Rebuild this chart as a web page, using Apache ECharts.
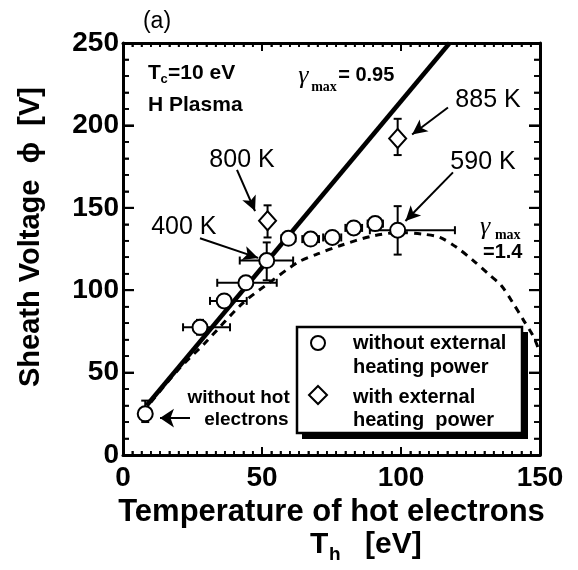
<!DOCTYPE html>
<html>
<head>
<meta charset="utf-8">
<script src="https://cdn.jsdelivr.net/npm/echarts@6/dist/echarts.min.js"></script>
<style>
  html, body { margin: 0; padding: 0; background: #fff; }
  #chart { width: 578px; height: 570px; }
</style>
</head>
<body>
<div id="chart"></div>
<script>
// Sheath voltage versus temperature of hot electrons (Tc = 10 eV, H plasma)

// Measurements without external heating power
const thNoHeat   = [8,  27.7, 36.4, 44.2, 51.7, 59.5, 67.5, 75.3, 83.0, 90.7, 98.8];
const phiNoHeat  = [25, 77.5, 93.5, 104.5, 118, 131.5, 131, 132, 137.8, 140.4, 136.4];
const thLoNoHeat = [8,  21.6, 31.3, 33.9, 42.0, 57.0, 64.5, 72.0, 80.0, 88.0, 88.8];
const thHiNoHeat = [8,  38.5, 44.5, 55.3, 61.2, 62.0, 70.5, 78.5, 86.0, 93.5, 119.4];
const phiLoNoHeat = [20, 73, 90, 101, 106, 128, 128, 129, 134, 137, 121.6];
const phiHiNoHeat = [33, 82, 97, 108, 129, 135, 134, 135, 141, 144, 151];

// Measurements with external heating power
const thHeat    = [52, 98.8];
const phiHeat   = [142.2, 192];
const phiLoHeat = [132, 182];
const phiHiHeat = [151.5, 204];

// Model curves
const thGamma095  = [8.5, 117.5];
const phiGamma095 = [30, 250];
const thGamma14  = [10, 20, 29.5, 43, 53, 63, 70, 78, 90, 100, 108, 114, 120, 126, 132, 136, 140, 144, 147.6, 150];
const phiGamma14 = [32, 52, 68, 92, 105, 117, 122, 127, 133, 135, 134, 132, 126, 118, 109, 103, 93, 82, 72, 62];

// Axis ticks
const xTicks = [0, 50, 100, 150];
const yTicks = [0, 50, 100, 150, 200, 250];
const xMinorPerMajor = 15;
const yMinorPerMajor = 5;

// Labels placed in data coordinates
const tempLabels  = ['800 K', '400 K', '885 K', '590 K'];
const tempLabelTh = [42.8, 21.9, 131.3, 129.5];
const tempLabelPhi = [178.8, 138.2, 215.2, 177.6];
// arrows: [th, phi] of tail and head
const arrowFrom = [[41, 173], [27.7, 131.5], [116.9, 210.9], [118.7, 171.5], [24.1, 22.4]];
const arrowTo   = [[47.5, 148], [48.6, 119.6], [104, 194.5], [101.6, 142], [13.3, 22.4]];

const SANS = '"Liberation Sans", Arial, Helvetica, sans-serif';
const SERIF = '"Liberation Serif", "DejaVu Serif", serif';

const chart = echarts.init(document.getElementById('chart'), null, { renderer: 'canvas' });

const X_MIN = xTicks[0], X_MAX = xTicks[xTicks.length - 1];
const Y_MIN = yTicks[0], Y_MAX = yTicks[yTicks.length - 1];

function xAxisDef(pos, showLabel) {
  return {
    type: 'value', position: pos, min: X_MIN, max: X_MAX, interval: 50,
    axisLine: { show: true, onZero: false, lineStyle: { color: '#000', width: 3 } },
    axisTick: { show: true, inside: true, length: 8, lineStyle: { color: '#000', width: 2 } },
    minorTick: { show: true, splitNumber: xMinorPerMajor, length: 4, lineStyle: { color: '#000', width: 1.6 } },
    splitLine: { show: false },
    axisLabel: { show: showLabel, color: '#000', fontFamily: SANS, fontWeight: 'bold', fontSize: 28, margin: 9 }
  };
}
function yAxisDef(pos, showLabel) {
  return {
    type: 'value', position: pos, min: Y_MIN, max: Y_MAX, interval: 50,
    axisLine: { show: true, onZero: false, lineStyle: { color: '#000', width: 3 } },
    axisTick: { show: true, inside: true, length: 11, lineStyle: { color: '#000', width: 2 } },
    minorTick: { show: true, splitNumber: yMinorPerMajor, length: 6, lineStyle: { color: '#000', width: 1.6 } },
    splitLine: { show: false },
    axisLabel: { show: showLabel, color: '#000', fontFamily: SANS, fontWeight: 'bold', fontSize: 28, margin: 4 }
  };
}

const xA = xAxisDef('bottom', true);
xA.name = 'Temperature of hot electrons';
xA.nameLocation = 'middle';
xA.nameGap = 41;
xA.nameTextStyle = { color: '#000', fontFamily: SANS, fontWeight: 'bold', fontSize: 31 };
const yA = yAxisDef('left', true);
yA.name = 'Sheath Voltage  \u03D5  [V]';
yA.nameLocation = 'middle';
yA.nameGap = 78;
yA.nameTextStyle = { color: '#000', fontFamily: SANS, fontWeight: 'bold', fontSize: 29, padding: [0, 0, 0, 24] };

const noHeatErr = thNoHeat.map((t, i) => [t, phiNoHeat[i], thLoNoHeat[i], thHiNoHeat[i], phiLoNoHeat[i], phiHiNoHeat[i]]);
const heatErr = thHeat.map((t, i) => [t, phiHeat[i], t, t, phiLoHeat[i], phiHiHeat[i]]);

function renderErr(params, api) {
  const x = api.value(0), y = api.value(1);
  const xl = api.value(2), xh = api.value(3), yl = api.value(4), yh = api.value(5);
  const pl = api.coord([xl, y]), ph = api.coord([xh, y]);
  const pb = api.coord([x, yl]), pt = api.coord([x, yh]);
  const cap = 4;
  const st = { stroke: '#000', lineWidth: 2 };
  const kids = [];
  if (xh > xl) {
    kids.push({ type: 'line', shape: { x1: pl[0], y1: pl[1], x2: ph[0], y2: ph[1] }, style: st });
    kids.push({ type: 'line', shape: { x1: pl[0], y1: pl[1] - cap, x2: pl[0], y2: pl[1] + cap }, style: st });
    kids.push({ type: 'line', shape: { x1: ph[0], y1: ph[1] - cap, x2: ph[0], y2: ph[1] + cap }, style: st });
  }
  if (yh > yl) {
    kids.push({ type: 'line', shape: { x1: pb[0], y1: pb[1], x2: pt[0], y2: pt[1] }, style: st });
    kids.push({ type: 'line', shape: { x1: pb[0] - cap, y1: pb[1], x2: pb[0] + cap, y2: pb[1] }, style: st });
    kids.push({ type: 'line', shape: { x1: pt[0] - cap, y1: pt[1], x2: pt[0] + cap, y2: pt[1] }, style: st });
  }
  return { type: 'group', children: kids };
}

const option = {
  animation: false,
  backgroundColor: '#fff',
  grid: { left: 123, right: 38, top: 43, bottom: 115 },
  xAxis: [xA, xAxisDef('top', false)],
  yAxis: [yA, yAxisDef('right', false)],
  series: [
    {
      type: 'line', xAxisIndex: 0, yAxisIndex: 0, showSymbol: false, silent: true, z: 3,
      data: thGamma095.map((t, i) => [t, phiGamma095[i]]),
      lineStyle: { color: '#000', width: 4.5 }
    },
    {
      type: 'line', xAxisIndex: 0, yAxisIndex: 0, showSymbol: false, silent: true, smooth: 0.3, z: 3,
      data: thGamma14.map((t, i) => [t, phiGamma14[i]]),
      lineStyle: { color: '#000', width: 3, type: [7, 6] }
    },
    {
      type: 'custom', xAxisIndex: 0, yAxisIndex: 0, renderItem: renderErr, silent: true, z: 4,
      data: noHeatErr.concat(heatErr)
    },
    {
      type: 'scatter', xAxisIndex: 0, yAxisIndex: 0, z: 5,
      symbol: 'circle', symbolSize: 15,
      itemStyle: { color: '#fff', borderColor: '#000', borderWidth: 2, opacity: 1 },
      data: thNoHeat.map((t, i) => [t, phiNoHeat[i]]),
      markLine: {
        silent: true, animation: false,
        symbol: ['none', 'arrow'], symbolSize: [0, 13],
        label: { show: false },
        lineStyle: { color: '#000', width: 2, type: 'solid' },
        data: arrowFrom.map((f, i) => [
          { coord: f, symbol: 'none' },
          { coord: arrowTo[i], symbol: 'arrow', symbolSize: i === 4 ? [14, 14] : [11, 15] }
        ])
      }
    },
    {
      type: 'scatter', xAxisIndex: 0, yAxisIndex: 0, z: 5,
      symbol: 'diamond', symbolSize: [17, 19],
      itemStyle: { color: '#fff', borderColor: '#000', borderWidth: 2, opacity: 1 },
      data: thHeat.map((t, i) => [t, phiHeat[i]])
    }
  ]
};
chart.setOption(option);

// Positions from the chart's own scales
function px(th, phi) { return chart.convertToPixel({ xAxisIndex: 0, yAxisIndex: 0 }, [th, phi]); }
function txt(x, y, s, size, opts) {
  return {
    type: 'text', x: x, y: y, silent: true, z: 50,
    style: Object.assign({ text: s, fill: '#000', font: 'bold ' + size + 'px ' + SANS, textAlign: 'left', textVerticalAlign: 'middle' }, opts || {})
  };
}
function seg(x1, y1, x2, y2, w) {
  return { type: 'line', silent: true, z: 100, shape: { x1: x1, y1: y1, x2: x2, y2: y2 }, style: { stroke: '#000', lineWidth: w } };
}

const g = [];

// Inward tick marks on all four sides of the frame
function xTick(v, major) {
  const b = px(v, Y_MIN), t = px(v, Y_MAX), len = major ? 8 : 4, w = major ? 2 : 1.6;
  g.push(seg(b[0], b[1], b[0], b[1] - len, w));
  g.push(seg(t[0], t[1], t[0], t[1] + len, w));
}
function yTick(v, major) {
  const l = px(X_MIN, v), r = px(X_MAX, v), len = major ? 11 : 6, w = major ? 2 : 1.6;
  g.push(seg(l[0], l[1], l[0] + len, l[1], w));
  g.push(seg(r[0], r[1], r[0] - len, r[1], w));
}
for (let k = 0; k < xTicks.length; k++) {
  xTick(xTicks[k], true);
  if (k < xTicks.length - 1) {
    const step = (xTicks[k + 1] - xTicks[k]) / xMinorPerMajor;
    for (let m = 1; m < xMinorPerMajor; m++) xTick(xTicks[k] + m * step, false);
  }
}
for (let k = 0; k < yTicks.length; k++) {
  yTick(yTicks[k], true);
  if (k < yTicks.length - 1) {
    const step = (yTicks[k + 1] - yTicks[k]) / yMinorPerMajor;
    for (let m = 1; m < yMinorPerMajor; m++) yTick(yTicks[k] + m * step, false);
  }
}

// panel tag
g.push(txt(157, 22, '(a)', 23, { font: '23px ' + SANS, textAlign: 'center' }));

// plasma conditions
const pTc = px(9, 231.5);
g.push(txt(pTc[0], pTc[1], 'T', 21));
g.push(txt(pTc[0] + 12.5, pTc[1] + 6, 'c', 13));
g.push(txt(pTc[0] + 20, pTc[1], '=10 eV', 21));
const pH = px(9, 212);
g.push(txt(pH[0], pH[1], 'H Plasma', 21));

// gamma_max = 0.95
const pG1 = px(63, 230);
g.push(txt(pG1[0], pG1[1], '\u03B3', 26, { font: 'italic 26px ' + SERIF }));
g.push(txt(pG1[0] + 13, pG1[1] + 11, 'max', 14, { font: 'bold 14px ' + SERIF }));
g.push(txt(pG1[0] + 40, pG1[1], '= 0.95', 20));

// gamma_max = 1.4
const pG2 = px(128.4, 138.2);
g.push(txt(pG2[0], pG2[1], '\u03B3', 26, { font: 'italic 26px ' + SERIF }));
g.push(txt(pG2[0] + 15, pG2[1] + 8, 'max', 14, { font: 'bold 14px ' + SERIF }));
const pG3 = px(129.5, 123);
g.push(txt(pG3[0], pG3[1], '=1.4', 20));

// temperature callouts
tempLabels.forEach((s, i) => {
  const p = px(tempLabelTh[i], tempLabelPhi[i]);
  g.push(txt(p[0], p[1], s, 25, { font: '25px ' + SANS, textAlign: 'center' }));
});

// reference point without hot electrons
const pW1 = px(60, 34.5);
g.push(txt(pW1[0], pW1[1], 'without hot', 19, { textAlign: 'right' }));
const pW2 = px(59.6, 21.2);
g.push(txt(pW2[0], pW2[1], 'electrons', 19, { textAlign: 'right' }));

// second line of x-axis title
g.push(txt(310, 545, 'T', 30));
g.push(txt(329, 555, 'h', 19));
g.push(txt(365, 545, '[eV]', 30));

// legend box with drop shadow
g.push({ type: 'rect', silent: true, shape: { x: 302, y: 332, width: 226, height: 107 }, style: { fill: '#000' }, z: 60 });
g.push({ type: 'rect', silent: true, shape: { x: 297, y: 327, width: 225, height: 106 }, style: { fill: '#fff', stroke: '#000', lineWidth: 2.5 }, z: 61 });
g.push({ type: 'circle', silent: true, shape: { cx: 318, cy: 343, r: 7 }, style: { fill: '#fff', stroke: '#000', lineWidth: 2 }, z: 62 });
g.push({ type: 'polygon', silent: true, shape: { points: [[318, 386], [327, 395], [318, 404], [309, 395]] }, style: { fill: '#fff', stroke: '#000', lineWidth: 2 }, z: 62 });
['without external', 'heating power', 'with external', 'heating  power'].forEach((s, i) => {
  const t = txt(353, [343, 367, 397, 420][i], s, 20);
  t.z = 62;
  g.push(t);
});

chart.setOption({ graphic: g });
</script>
</body>
</html>
